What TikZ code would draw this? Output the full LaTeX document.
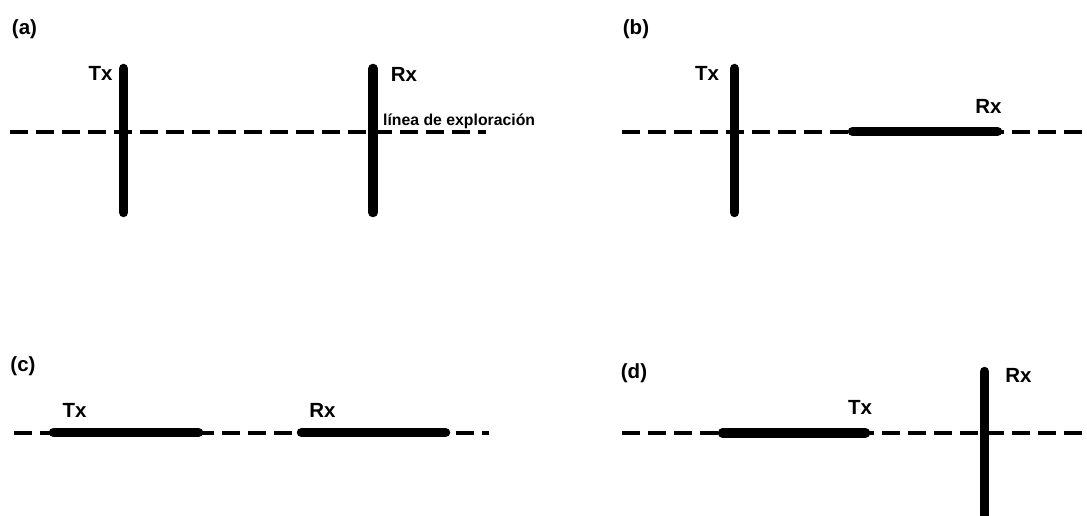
\documentclass[tikz,border=0pt]{standalone}
\usepackage{fontspec}
\setmainfont{Liberation Sans}
\begin{document}
\begin{tikzpicture}[
    x=1pt, y=-1pt,
    every node/.style={inner sep=0pt, anchor=base},
    tag/.style={font=\fontsize{20.5}{22}\selectfont\bfseries},
    note/.style={font=\fontsize{15.8}{18}\selectfont\bfseries, anchor=base west},
    antenna/.style={line width=9.5pt, line cap=round},
    scan/.style={line width=3.5pt, dash pattern=on 17.5pt off 8.5pt},
]
    \useasboundingbox (0,0) rectangle (1087,516);
    % (a)
    \node[tag] (pa) at (24.5,34.5) {(a)};
    \coordinate (sa1) at (10,132);
    \coordinate (sa2) at (486,132);
    \draw[scan] (sa1) -- (sa2);
    \draw[antenna] (123.5,68.5) coordinate (txa1) -- (123.5,212.5) coordinate (txa2);
    \draw[antenna] (373,68.5) coordinate (rxa1) -- (373,212.5) coordinate (rxa2);
    \node[tag] (txa) at (100.5,80.5) {Tx};
    \node[tag] (rxa) at (404,81.5) {Rx};
    \node[note] (scanlbl) at (383,126) {línea de exploración};
    % (b)
    \node[tag] (pb) at (636,34.5) {(b)};
    \coordinate (sb1) at (622,132);
    \coordinate (sb2) at (1090,132);
    \draw[scan] (sb1) -- (sb2);
    \draw[antenna] (734.5,68.5) coordinate (txb1) -- (734.5,212.5) coordinate (txb2);
    \draw[antenna] (852.5,131.5) coordinate (rxb1) -- (997.5,131.5) coordinate (rxb2);
    \node[tag] (txb) at (707,80.5) {Tx};
    \node[tag] (rxb) at (988.5,113.5) {Rx};
    % (c)
    \node[tag] (pc) at (23,371.5) {(c)};
    \coordinate (sc1) at (14,433);
    \coordinate (sc2) at (489,433);
    \draw[scan] (sc1) -- (sc2);
    \draw[antenna] (53.5,432.5) coordinate (txc1) -- (198.5,432.5) coordinate (txc2);
    \draw[antenna] (301.5,432.5) coordinate (rxc1) -- (445.5,432.5) coordinate (rxc2);
    \node[tag] (txc) at (74.5,417.5) {Tx};
    \node[tag] (rxc) at (322.5,417.5) {Rx};
    % (d)
    \node[tag] (pd) at (634,378.5) {(d)};
    \coordinate (sd1) at (622,433);
    \coordinate (sd2) at (1090,433);
    \draw[scan] (sd1) -- (sd2);
    \draw[antenna] (722.5,433) coordinate (txd1) -- (865.5,433) coordinate (txd2);
    \draw[antenna] (984.5,371.5) coordinate (rxd1) -- (984.5,522) coordinate (rxd2);
    \node[tag] (txd) at (860,414.5) {Tx};
    \node[tag] (rxd) at (1018.5,382.5) {Rx};
\end{tikzpicture}
\end{document}
